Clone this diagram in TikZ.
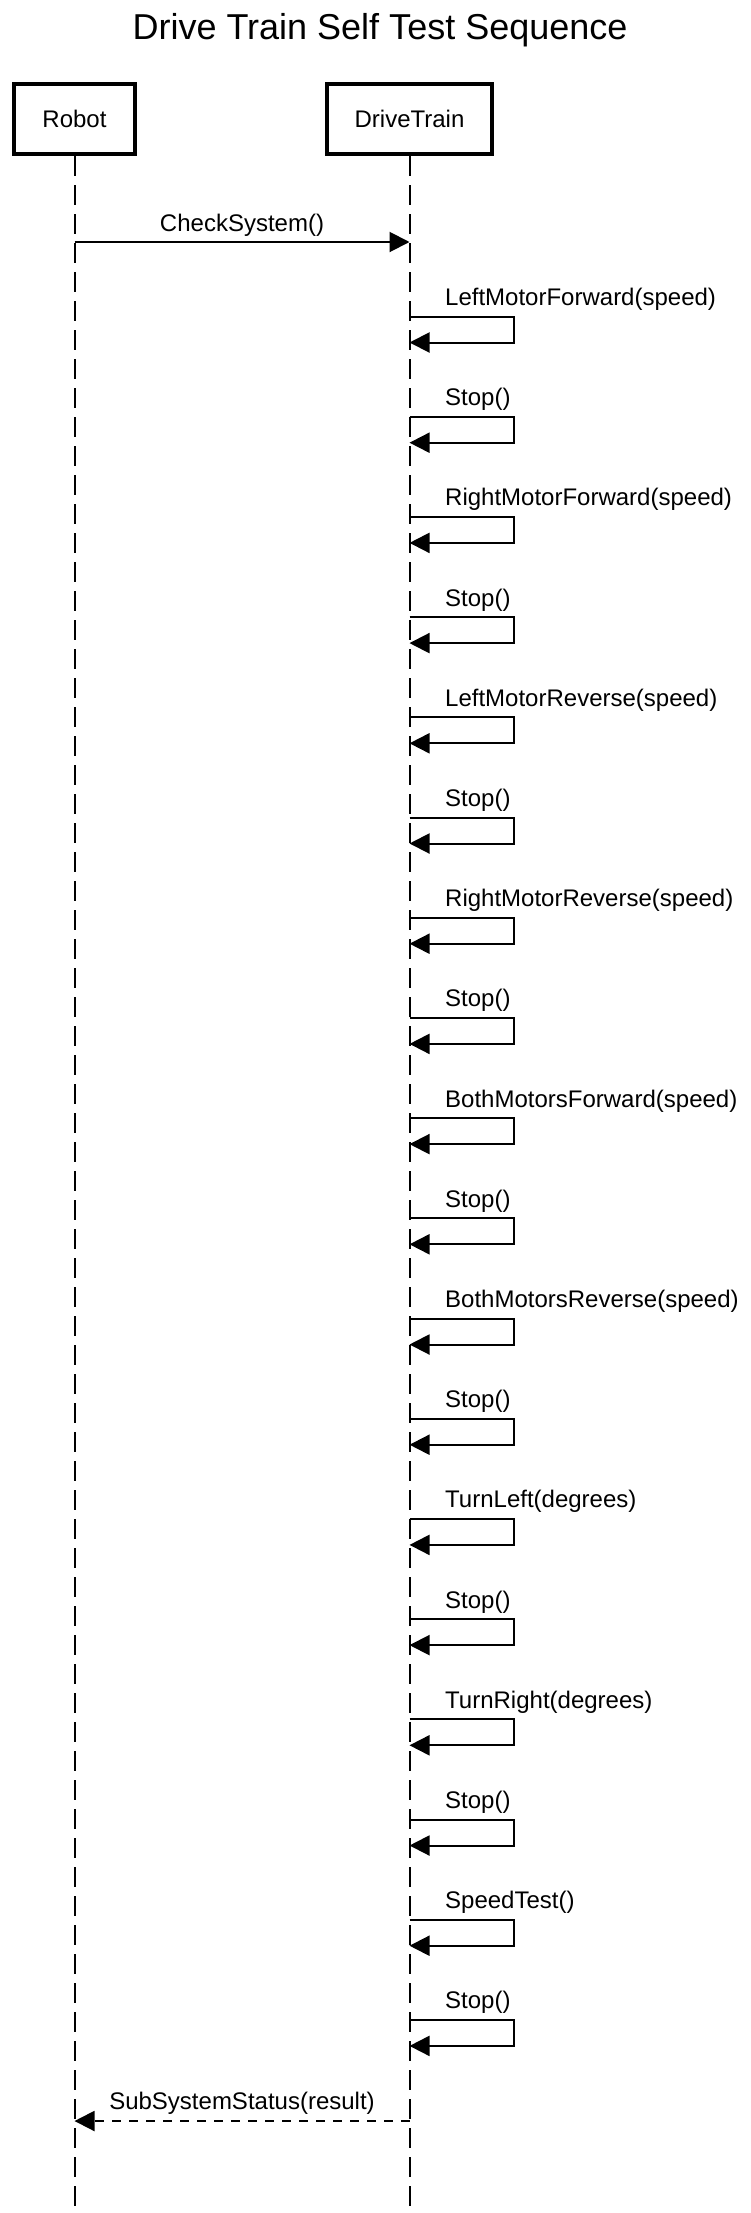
\documentclass[tikz,border=0pt]{standalone}
\usepackage{fontspec}
\setmainfont{Liberation Sans}
\usetikzlibrary{arrows.meta}

\tikzset{
  actor/.style={draw,line width=4pt,minimum width=#1,minimum height=70pt,inner sep=0pt,font=\fontsize{24}{28}\selectfont},
  life/.style={line width=2pt,dash pattern=on 20pt off 9pt},
  msg/.style={line width=2pt,-{Triangle[length=20pt,width=20pt]}},
  reply/.style={msg,dash pattern=on 9pt off 8pt},
  lbl/.style={inner sep=0pt,font=\fontsize{24}{28}\selectfont}
}

\begin{document}
\begin{tikzpicture}[x=1pt,y=1pt]
    \useasboundingbox (0,0) rectangle (751,-2213);
    \node[inner sep=0pt,anchor=base,font=\fontsize{36}{42}\selectfont] (title) at (380,-40) {Drive Train Self Test Sequence};

    % participants
    \node[actor=121pt] (robot) at (74.5,-119) {Robot};
    \node[actor=165pt] (dt) at (409.5,-119) {DriveTrain};
    \coordinate (robotend) at (74.5,-2213);
    \coordinate (dtend) at (409.5,-2213);
    \draw[life] (robot.south)--(robotend);
    \draw[life] (dt.south)--(dtend);

    % call
    \coordinate (call1) at (74.5,-242);
    \coordinate (call2) at (409.5,-242);
    \draw[msg] (call1)--node[lbl,anchor=base,yshift=11pt]{CheckSystem()}(call2);

    % self tests
    \foreach \txt [count=\i from 0] in {LeftMotorForward(speed),Stop(),RightMotorForward(speed),Stop(),LeftMotorReverse(speed),Stop(),RightMotorReverse(speed),Stop(),BothMotorsForward(speed),Stop(),BothMotorsReverse(speed),Stop(),TurnLeft(degrees),Stop(),TurnRight(degrees),Stop(),SpeedTest(),Stop()} {
        \pgfmathsetmacro{\ytop}{-316.5-100.2*\i}
        \pgfmathsetmacro{\ybot}{\ytop-26}
        \pgfmathsetmacro{\ytxt}{\ytop+11}
        \coordinate (a\i) at (409.5,\ytop);
        \coordinate (b\i) at (514,\ybot);
        \coordinate (c\i) at (409.5,\ybot);
        \node[lbl,anchor=base west] (l\i) at (445,\ytxt) {\txt};
        \draw[msg] (a\i) -| (b\i) -- (c\i);
    }

    % result
    \coordinate (ret1) at (409.5,-2121);
    \coordinate (ret2) at (74.5,-2121);
    \draw[reply] (ret1)--node[lbl,anchor=base,yshift=12pt]{SubSystemStatus(result)}(ret2);
\end{tikzpicture}
\end{document}
